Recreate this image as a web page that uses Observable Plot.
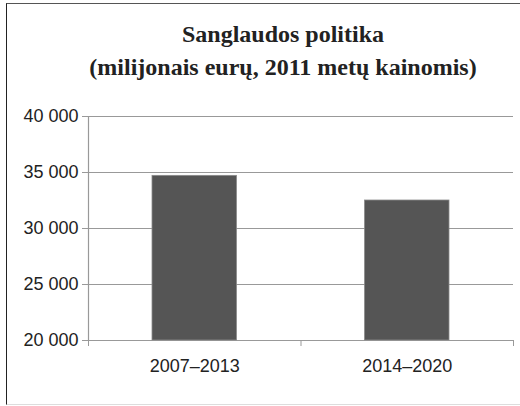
<!DOCTYPE html>
<html>
<head>
<meta charset="utf-8">
<script src="https://cdn.jsdelivr.net/npm/d3@7"></script>
<script src="https://cdn.jsdelivr.net/npm/@observablehq/plot@0.6"></script>
<style>
  html, body { margin: 0; padding: 0; background: #fff; }
  #wrap { position: relative; width: 520px; height: 406px; overflow: hidden; }
  #frame { position: absolute; left: 6px; top: 3px; width: 600px; height: 400px;
           border-left: 1.5px solid #222; border-top: 1px solid #555; border-bottom: 1px solid #ddd; }
  #title { position: absolute; left: 0; top: 18px; width: 566px; text-align: center;
           font-family: "Liberation Serif", "Times New Roman", serif; font-weight: bold;
           font-size: 24px; line-height: 33px; color: #222; }
  #chart { position: absolute; left: 0; top: 100px; }
</style>
</head>
<body>
<div id="wrap">
  <div id="frame"></div>
  <div id="title">Sanglaudos politika<br>(milijonais eurų, 2011 metų kainomis)</div>
  <div id="chart"></div>
</div>
<script>
const periods = ["2007–2013", "2014–2020"];
const values = [34700, 32500];
const yTicks = [20000, 25000, 30000, 35000, 40000];

const data = periods.map((p, i) => ({period: p, i, value: values[i]}));
const fmt = d => d3.format(",")(d).replace(/,/g, " ");

const chart = Plot.plot({
  width: 520,
  height: 306,
  marginLeft: 88,
  marginRight: 7,
  marginTop: 16,
  marginBottom: 66,
  style: {fontFamily: "'Liberation Sans', Arial, sans-serif", fontSize: "18px", color: "#222", background: "transparent"},
  x: {type: "linear", domain: [0, periods.length]},
  y: {domain: [20000, 40000]},
  marks: [
    Plot.ruleY(yTicks, {stroke: "#999", strokeWidth: 1.2}),
    Plot.rectY(data, {x1: "i", x2: d => d.i + 1, y1: 20000, y2: "value", insetLeft: 64, insetRight: 64,
                      fill: "#555555", stroke: "#8a8a8a", strokeWidth: 0.8}),
    Plot.ruleX([0], {stroke: "#999", strokeWidth: 1.2}),
    Plot.axisY({ticks: yTicks, tickSize: 6, tickPadding: 4, tickFormat: fmt, stroke: "#999", fontSize: 18, label: null}),
    Plot.axisX({ticks: d3.range(periods.length + 1), tickSize: 6, tickFormat: () => "", stroke: "#999", label: null}),
    Plot.text(data, {x: d => d.i + 0.5, y: 20000, text: "period", dy: 26, fontSize: 18, fill: "#222"})
  ]
});
document.getElementById("chart").appendChild(chart);
</script>
</body>
</html>
